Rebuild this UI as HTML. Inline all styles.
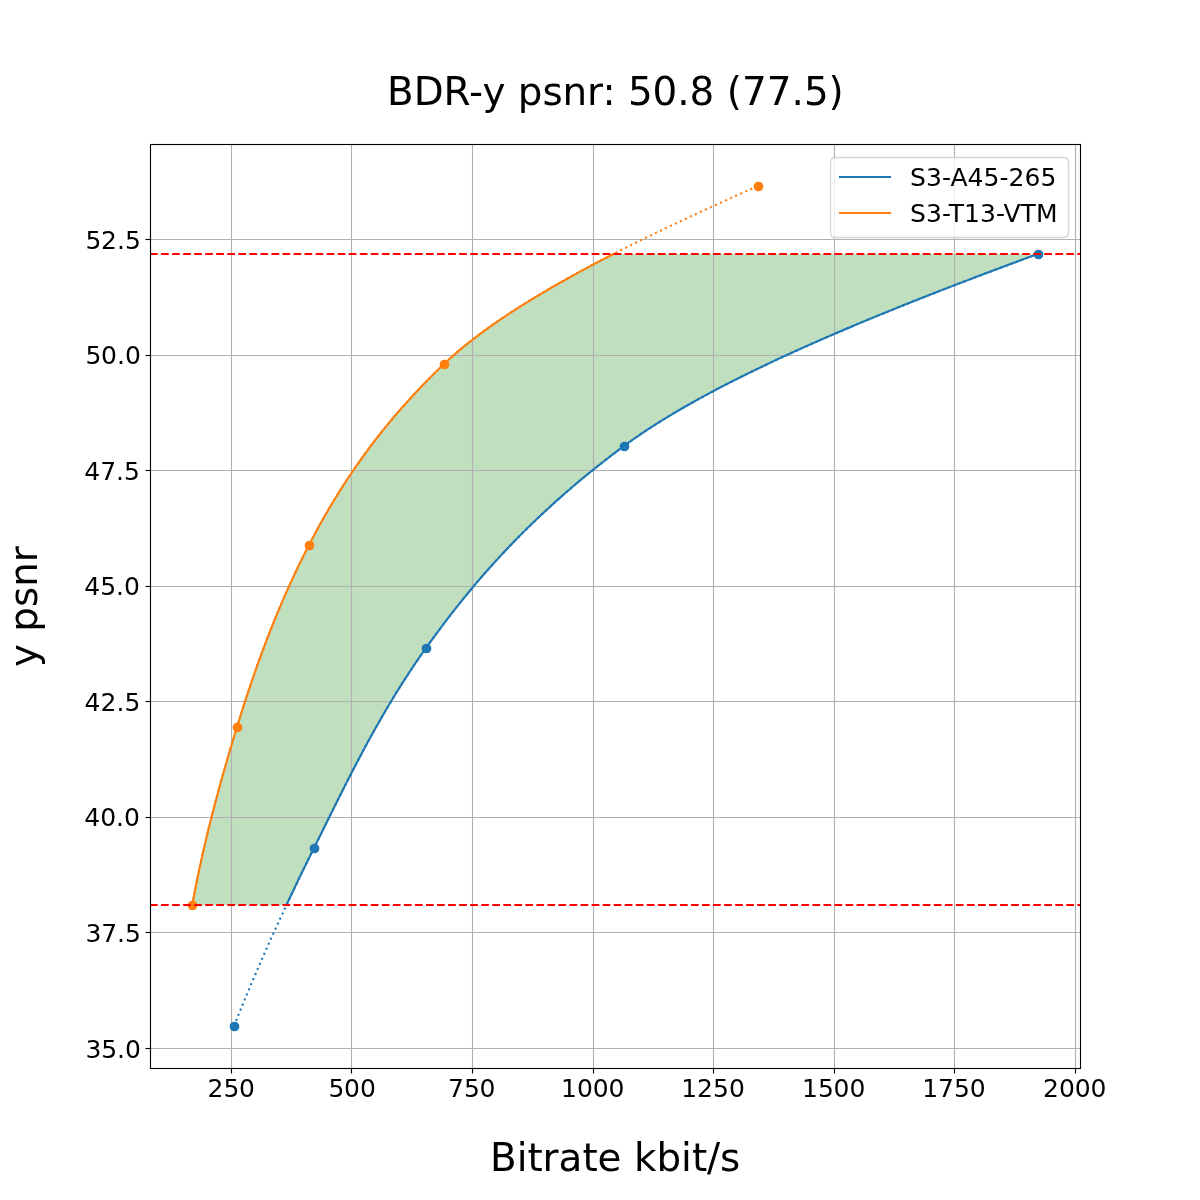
<!DOCTYPE html>
<html lang="en"><head><meta charset="utf-8"><title>BDR-y psnr</title>
<style>html,body{margin:0;padding:0;background:#fff}body{width:1200px;height:1200px;overflow:hidden}</style></head>
<body>
<svg width="1200" height="1200" viewBox="0 0 1200 1200" style="display:block;font-family:'DejaVu Sans', 'Liberation Sans', sans-serif">
<defs><clipPath id="axclip"><rect x="150" y="144" width="930" height="924"/></clipPath></defs>
<rect width="1200" height="1200" fill="#fff"/>
<g clip-path="url(#axclip)">
<path d="M192.27 905 L192.56 903.37 L192.86 901.74 L193.16 900.11 L193.46 898.47 L193.77 896.84 L194.08 895.21 L194.39 893.58 L194.7 891.95 L195.02 890.32 L195.33 888.68 L195.65 887.05 L195.98 885.42 L196.3 883.79 L196.63 882.16 L196.96 880.53 L197.29 878.89 L197.63 877.26 L197.96 875.63 L198.3 874 L198.64 872.37 L198.99 870.74 L199.34 869.11 L199.68 867.47 L200.04 865.84 L200.39 864.21 L200.74 862.58 L201.1 860.95 L201.46 859.32 L201.82 857.68 L202.19 856.05 L202.56 854.42 L202.93 852.79 L203.3 851.16 L203.67 849.53 L204.05 847.89 L204.42 846.26 L204.8 844.63 L205.19 843 L205.57 841.37 L205.96 839.74 L206.34 838.11 L206.74 836.47 L207.13 834.84 L207.52 833.21 L207.92 831.58 L208.32 829.95 L208.72 828.32 L209.12 826.68 L209.53 825.05 L209.93 823.42 L210.34 821.79 L210.75 820.16 L211.16 818.53 L211.58 816.89 L211.99 815.26 L212.41 813.63 L212.83 812 L213.25 810.37 L213.68 808.74 L214.1 807.11 L214.53 805.47 L214.96 803.84 L215.39 802.21 L215.82 800.58 L216.26 798.95 L216.7 797.32 L217.13 795.68 L217.57 794.05 L218.01 792.42 L218.46 790.79 L218.9 789.16 L219.35 787.53 L219.8 785.89 L220.25 784.26 L220.7 782.63 L221.15 781 L221.61 779.37 L222.07 777.74 L222.52 776.11 L222.98 774.47 L223.44 772.84 L223.91 771.21 L224.37 769.58 L224.84 767.95 L225.31 766.32 L225.77 764.68 L226.25 763.05 L226.72 761.42 L227.19 759.79 L227.67 758.16 L228.14 756.53 L228.62 754.89 L229.1 753.26 L229.58 751.63 L230.06 750 L230.55 748.37 L231.03 746.74 L231.52 745.11 L232 743.47 L232.49 741.84 L232.98 740.21 L233.48 738.58 L233.97 736.95 L234.46 735.32 L234.96 733.68 L235.45 732.05 L235.95 730.42 L236.45 728.79 L236.95 727.16 L237.45 725.53 L237.96 723.89 L238.46 722.26 L238.97 720.63 L239.48 719 L239.99 717.37 L240.5 715.74 L241.01 714.11 L241.53 712.47 L242.05 710.84 L242.57 709.21 L243.09 707.58 L243.61 705.95 L244.13 704.32 L244.66 702.68 L245.19 701.05 L245.72 699.42 L246.26 697.79 L246.79 696.16 L247.33 694.53 L247.87 692.89 L248.41 691.26 L248.95 689.63 L249.5 688 L250.05 686.37 L250.6 684.74 L251.15 683.11 L251.71 681.47 L252.26 679.84 L252.82 678.21 L253.39 676.58 L253.95 674.95 L254.52 673.32 L255.09 671.68 L255.66 670.05 L256.24 668.42 L256.81 666.79 L257.39 665.16 L257.98 663.53 L258.56 661.89 L259.15 660.26 L259.74 658.63 L260.33 657 L260.93 655.37 L261.53 653.74 L262.13 652.11 L262.73 650.47 L263.34 648.84 L263.95 647.21 L264.56 645.58 L265.18 643.95 L265.8 642.32 L266.42 640.68 L267.04 639.05 L267.67 637.42 L268.3 635.79 L268.94 634.16 L269.57 632.53 L270.21 630.89 L270.86 629.26 L271.5 627.63 L272.15 626 L272.81 624.37 L273.46 622.74 L274.12 621.11 L274.79 619.47 L275.45 617.84 L276.12 616.21 L276.79 614.58 L277.47 612.95 L278.15 611.32 L278.83 609.68 L279.52 608.05 L280.21 606.42 L280.9 604.79 L281.6 603.16 L282.3 601.53 L283.01 599.89 L283.71 598.26 L284.43 596.63 L285.14 595 L285.86 593.37 L286.58 591.74 L287.31 590.11 L288.04 588.47 L288.78 586.84 L289.51 585.21 L290.26 583.58 L291 581.95 L291.75 580.32 L292.51 578.68 L293.26 577.05 L294.03 575.42 L294.79 573.79 L295.56 572.16 L296.34 570.53 L297.11 568.89 L297.9 567.26 L298.68 565.63 L299.47 564 L300.27 562.37 L301.07 560.74 L301.87 559.11 L302.68 557.47 L303.49 555.84 L304.31 554.21 L305.13 552.58 L305.95 550.95 L306.78 549.32 L307.62 547.68 L308.46 546.05 L309.3 544.42 L310.15 542.79 L311 541.16 L311.86 539.53 L312.72 537.89 L313.58 536.26 L314.46 534.63 L315.33 533 L316.21 531.37 L317.1 529.74 L317.99 528.11 L318.89 526.47 L319.79 524.84 L320.7 523.21 L321.61 521.58 L322.52 519.95 L323.45 518.32 L324.38 516.68 L325.31 515.05 L326.25 513.42 L327.19 511.79 L328.15 510.16 L329.1 508.53 L330.07 506.89 L331.03 505.26 L332.01 503.63 L332.99 502 L333.98 500.37 L334.97 498.74 L335.97 497.11 L336.97 495.47 L337.98 493.84 L339 492.21 L340.03 490.58 L341.06 488.95 L342.1 487.32 L343.14 485.68 L344.19 484.05 L345.25 482.42 L346.31 480.79 L347.38 479.16 L348.46 477.53 L349.55 475.89 L350.64 474.26 L351.74 472.63 L352.85 471 L353.96 469.37 L355.08 467.74 L356.21 466.11 L357.35 464.47 L358.49 462.84 L359.64 461.21 L360.8 459.58 L361.96 457.95 L363.14 456.32 L364.32 454.68 L365.51 453.05 L366.71 451.42 L367.91 449.79 L369.12 448.16 L370.35 446.53 L371.57 444.89 L372.81 443.26 L374.06 441.63 L375.31 440 L376.57 438.37 L377.85 436.74 L379.12 435.11 L380.41 433.47 L381.71 431.84 L383.01 430.21 L384.33 428.58 L385.65 426.95 L386.98 425.32 L388.32 423.68 L389.67 422.05 L391.03 420.42 L392.4 418.79 L393.77 417.16 L395.16 415.53 L396.56 413.89 L397.96 412.26 L399.37 410.63 L400.8 409 L402.23 407.37 L403.67 405.74 L405.12 404.11 L406.58 402.47 L408.06 400.84 L409.54 399.21 L411.03 397.58 L412.53 395.95 L414.04 394.32 L415.56 392.68 L417.09 391.05 L418.63 389.42 L420.18 387.79 L421.75 386.16 L423.32 384.53 L424.9 382.89 L426.49 381.26 L428.1 379.63 L429.71 378 L431.33 376.37 L432.97 374.74 L434.61 373.11 L436.27 371.47 L437.94 369.84 L439.62 368.21 L441.31 366.58 L443.01 364.95 L444.72 363.32 L446.46 361.68 L448.22 360.05 L450.02 358.42 L451.84 356.79 L453.68 355.16 L455.56 353.53 L457.45 351.89 L459.38 350.26 L461.33 348.63 L463.31 347 L465.32 345.37 L467.34 343.74 L469.4 342.11 L471.48 340.47 L473.59 338.84 L475.72 337.21 L477.87 335.58 L480.05 333.95 L482.26 332.32 L484.49 330.68 L486.74 329.05 L489.02 327.42 L491.32 325.79 L493.64 324.16 L495.99 322.53 L498.36 320.89 L500.75 319.26 L503.17 317.63 L505.61 316 L508.07 314.37 L510.56 312.74 L513.06 311.11 L515.59 309.47 L518.14 307.84 L520.72 306.21 L523.31 304.58 L525.93 302.95 L528.56 301.32 L531.22 299.68 L533.9 298.05 L536.6 296.42 L539.32 294.79 L542.06 293.16 L544.82 291.53 L547.6 289.89 L550.4 288.26 L553.22 286.63 L556.06 285 L558.91 283.37 L561.79 281.74 L564.69 280.11 L567.6 278.47 L570.54 276.84 L573.49 275.21 L576.46 273.58 L579.45 271.95 L582.45 270.32 L585.48 268.68 L588.52 267.05 L591.58 265.42 L594.66 263.79 L597.75 262.16 L600.86 260.53 L603.99 258.89 L607.13 257.26 L610.29 255.63 L613.47 254 L1037.73 254 L1033.29 255.63 L1028.85 257.26 L1024.42 258.89 L1020.01 260.53 L1015.6 262.16 L1011.21 263.79 L1006.82 265.42 L1002.45 267.05 L998.09 268.68 L993.73 270.32 L989.39 271.95 L985.06 273.58 L980.74 275.21 L976.44 276.84 L972.14 278.47 L967.86 280.11 L963.59 281.74 L959.33 283.37 L955.08 285 L950.85 286.63 L946.63 288.26 L942.42 289.89 L938.22 291.53 L934.04 293.16 L929.87 294.79 L925.72 296.42 L921.58 298.05 L917.45 299.68 L913.34 301.32 L909.24 302.95 L905.15 304.58 L901.08 306.21 L897.03 307.84 L892.98 309.47 L888.96 311.11 L884.95 312.74 L880.95 314.37 L876.97 316 L873.01 317.63 L869.06 319.26 L865.13 320.89 L861.21 322.53 L857.31 324.16 L853.43 325.79 L849.56 327.42 L845.71 329.05 L841.88 330.68 L838.06 332.32 L834.27 333.95 L830.49 335.58 L826.72 337.21 L822.98 338.84 L819.25 340.47 L815.54 342.11 L811.85 343.74 L808.18 345.37 L804.52 347 L800.89 348.63 L797.27 350.26 L793.67 351.89 L790.1 353.53 L786.54 355.16 L783 356.79 L779.48 358.42 L775.98 360.05 L772.5 361.68 L769.04 363.32 L765.6 364.95 L762.18 366.58 L758.79 368.21 L755.41 369.84 L752.06 371.47 L748.72 373.11 L745.41 374.74 L742.12 376.37 L738.85 378 L735.6 379.63 L732.37 381.26 L729.17 382.89 L725.99 384.53 L722.83 386.16 L719.7 387.79 L716.58 389.42 L713.49 391.05 L710.43 392.68 L707.38 394.32 L704.36 395.95 L701.37 397.58 L698.39 399.21 L695.45 400.84 L692.52 402.47 L689.62 404.11 L686.75 405.74 L683.89 407.37 L681.07 409 L678.27 410.63 L675.49 412.26 L672.74 413.89 L670.02 415.53 L667.32 417.16 L664.64 418.79 L661.99 420.42 L659.37 422.05 L656.78 423.68 L654.21 425.32 L651.67 426.95 L649.15 428.58 L646.66 430.21 L644.2 431.84 L641.76 433.47 L639.36 435.11 L636.98 436.74 L634.63 438.37 L632.3 440 L630.01 441.63 L627.74 443.26 L625.5 444.89 L623.29 446.53 L621.09 448.16 L618.91 449.79 L616.74 451.42 L614.58 453.05 L612.44 454.68 L610.3 456.32 L608.18 457.95 L606.07 459.58 L603.97 461.21 L601.89 462.84 L599.82 464.47 L597.75 466.11 L595.7 467.74 L593.66 469.37 L591.64 471 L589.62 472.63 L587.62 474.26 L585.63 475.89 L583.64 477.53 L581.67 479.16 L579.71 480.79 L577.77 482.42 L575.83 484.05 L573.9 485.68 L571.99 487.32 L570.09 488.95 L568.19 490.58 L566.31 492.21 L564.44 493.84 L562.58 495.47 L560.73 497.11 L558.88 498.74 L557.05 500.37 L555.24 502 L553.43 503.63 L551.63 505.26 L549.84 506.89 L548.06 508.53 L546.29 510.16 L544.53 511.79 L542.78 513.42 L541.04 515.05 L539.31 516.68 L537.59 518.32 L535.88 519.95 L534.18 521.58 L532.49 523.21 L530.81 524.84 L529.13 526.47 L527.47 528.11 L525.82 529.74 L524.17 531.37 L522.53 533 L520.91 534.63 L519.29 536.26 L517.68 537.89 L516.08 539.53 L514.49 541.16 L512.9 542.79 L511.33 544.42 L509.76 546.05 L508.21 547.68 L506.66 549.32 L505.12 550.95 L503.58 552.58 L502.06 554.21 L500.54 555.84 L499.03 557.47 L497.53 559.11 L496.04 560.74 L494.56 562.37 L493.08 564 L491.61 565.63 L490.15 567.26 L488.7 568.89 L487.25 570.53 L485.81 572.16 L484.38 573.79 L482.96 575.42 L481.54 577.05 L480.13 578.68 L478.73 580.32 L477.33 581.95 L475.95 583.58 L474.56 585.21 L473.19 586.84 L471.82 588.47 L470.46 590.11 L469.11 591.74 L467.76 593.37 L466.42 595 L465.08 596.63 L463.76 598.26 L462.43 599.89 L461.12 601.53 L459.81 603.16 L458.51 604.79 L457.21 606.42 L455.92 608.05 L454.63 609.68 L453.35 611.32 L452.08 612.95 L450.81 614.58 L449.55 616.21 L448.29 617.84 L447.04 619.47 L445.8 621.11 L444.56 622.74 L443.32 624.37 L442.09 626 L440.87 627.63 L439.65 629.26 L438.44 630.89 L437.23 632.53 L436.02 634.16 L434.83 635.79 L433.63 637.42 L432.44 639.05 L431.26 640.68 L430.08 642.32 L428.9 643.95 L427.73 645.58 L426.56 647.21 L425.4 648.84 L424.24 650.47 L423.1 652.11 L421.95 653.74 L420.82 655.37 L419.68 657 L418.56 658.63 L417.44 660.26 L416.33 661.89 L415.22 663.53 L414.12 665.16 L413.03 666.79 L411.94 668.42 L410.85 670.05 L409.78 671.68 L408.7 673.32 L407.64 674.95 L406.58 676.58 L405.52 678.21 L404.47 679.84 L403.43 681.47 L402.39 683.11 L401.35 684.74 L400.32 686.37 L399.3 688 L398.28 689.63 L397.26 691.26 L396.25 692.89 L395.25 694.53 L394.25 696.16 L393.26 697.79 L392.26 699.42 L391.28 701.05 L390.3 702.68 L389.32 704.32 L388.35 705.95 L387.38 707.58 L386.42 709.21 L385.46 710.84 L384.5 712.47 L383.55 714.11 L382.6 715.74 L381.66 717.37 L380.72 719 L379.79 720.63 L378.86 722.26 L377.93 723.89 L377 725.53 L376.08 727.16 L375.17 728.79 L374.26 730.42 L373.35 732.05 L372.44 733.68 L371.54 735.32 L370.64 736.95 L369.74 738.58 L368.85 740.21 L367.96 741.84 L367.07 743.47 L366.19 745.11 L365.31 746.74 L364.43 748.37 L363.56 750 L362.68 751.63 L361.81 753.26 L360.95 754.89 L360.08 756.53 L359.22 758.16 L358.36 759.79 L357.51 761.42 L356.65 763.05 L355.8 764.68 L354.95 766.32 L354.1 767.95 L353.26 769.58 L352.41 771.21 L351.57 772.84 L350.73 774.47 L349.9 776.11 L349.06 777.74 L348.23 779.37 L347.4 781 L346.57 782.63 L345.74 784.26 L344.91 785.89 L344.08 787.53 L343.26 789.16 L342.44 790.79 L341.62 792.42 L340.8 794.05 L339.98 795.68 L339.16 797.32 L338.34 798.95 L337.53 800.58 L336.71 802.21 L335.9 803.84 L335.08 805.47 L334.27 807.11 L333.46 808.74 L332.65 810.37 L331.84 812 L331.03 813.63 L330.22 815.26 L329.41 816.89 L328.6 818.53 L327.8 820.16 L326.99 821.79 L326.18 823.42 L325.37 825.05 L324.57 826.68 L323.76 828.32 L322.95 829.95 L322.14 831.58 L321.34 833.21 L320.53 834.84 L319.72 836.47 L318.91 838.11 L318.1 839.74 L317.29 841.37 L316.48 843 L315.67 844.63 L314.86 846.26 L314.05 847.89 L313.24 849.53 L312.43 851.16 L311.62 852.79 L310.82 854.42 L310.01 856.05 L309.2 857.68 L308.4 859.32 L307.6 860.95 L306.8 862.58 L306 864.21 L305.2 865.84 L304.4 867.47 L303.61 869.11 L302.82 870.74 L302.02 872.37 L301.23 874 L300.44 875.63 L299.65 877.26 L298.87 878.89 L298.08 880.53 L297.3 882.16 L296.52 883.79 L295.73 885.42 L294.95 887.05 L294.18 888.68 L293.4 890.32 L292.62 891.95 L291.85 893.58 L291.08 895.21 L290.3 896.84 L289.53 898.47 L288.76 900.11 L288 901.74 L287.23 903.37 L286.47 905 Z" fill="#008000" fill-opacity="0.25"/>
</g>
<g stroke="#b0b0b0" stroke-width="1.11" fill="none">
<path d="M231.5 144V1068"/>
<path d="M351.5 144V1068"/>
<path d="M472.5 144V1068"/>
<path d="M593.5 144V1068"/>
<path d="M713.5 144V1068"/>
<path d="M834.5 144V1068"/>
<path d="M954.5 144V1068"/>
<path d="M1075.5 144V1068"/>
<path d="M150 1048.5H1080"/>
<path d="M150 932.5H1080"/>
<path d="M150 817.5H1080"/>
<path d="M150 701.5H1080"/>
<path d="M150 586.5H1080"/>
<path d="M150 470.5H1080"/>
<path d="M150 355.5H1080"/>
<path d="M150 239.5H1080"/>
</g>
<g stroke="#000" stroke-width="1.11" fill="none">
<path d="M231.5 1068.5V1073.5"/>
<path d="M351.5 1068.5V1073.5"/>
<path d="M472.5 1068.5V1073.5"/>
<path d="M593.5 1068.5V1073.5"/>
<path d="M713.5 1068.5V1073.5"/>
<path d="M834.5 1068.5V1073.5"/>
<path d="M954.5 1068.5V1073.5"/>
<path d="M1075.5 1068.5V1073.5"/>
<path d="M150.5 1048.5H145.5"/>
<path d="M150.5 932.5H145.5"/>
<path d="M150.5 817.5H145.5"/>
<path d="M150.5 701.5H145.5"/>
<path d="M150.5 586.5H145.5"/>
<path d="M150.5 470.5H145.5"/>
<path d="M150.5 355.5H145.5"/>
<path d="M150.5 239.5H145.5"/>
</g>
<g clip-path="url(#axclip)" fill="none" stroke-width="2.08" stroke-linejoin="round">
<path d="M234 1026 L234.77 1024.07 L235.54 1022.13 L236.32 1020.2 L237.09 1018.26 L237.87 1016.33 L238.66 1014.39 L239.44 1012.46 L240.23 1010.52 L241.01 1008.59 L241.81 1006.65 L242.6 1004.72 L243.39 1002.78 L244.19 1000.85 L244.99 998.91 L245.79 996.98 L246.6 995.04 L247.41 993.11 L248.22 991.17 L249.03 989.24 L249.84 987.3 L250.66 985.37 L251.47 983.43 L252.3 981.5 L253.12 979.56 L253.94 977.63 L254.77 975.69 L255.6 973.76 L256.43 971.82 L257.26 969.89 L258.1 967.95 L258.94 966.02 L259.78 964.09 L260.62 962.15 L261.47 960.22 L262.31 958.28 L263.16 956.35 L264.01 954.41 L264.87 952.48 L265.72 950.54 L266.58 948.61 L267.44 946.67 L268.3 944.74 L269.17 942.8 L270.03 940.87 L270.9 938.93 L271.77 937 L272.64 935.06 L273.52 933.13 L274.39 931.19 L275.27 929.26 L276.15 927.32 L277.04 925.39 L277.92 923.45 L278.81 921.52 L279.7 919.58 L280.59 917.65 L281.48 915.71 L282.38 913.78 L283.28 911.84 L284.18 909.91 L285.08 907.97 L285.98 906.04 L286.89 904.11 L287.79 902.17 L288.7 900.24 L289.61 898.3 L290.53 896.37 L291.44 894.43 L292.36 892.5 L293.28 890.56 L294.2 888.63 L295.13 886.69 L296.05 884.76 L296.98 882.82 L297.91 880.89 L298.84 878.95 L299.77 877.02 L300.71 875.08 L301.65 873.15 L302.58 871.21 L303.53 869.28 L304.47 867.34 L305.41 865.41 L306.36 863.47 L307.31 861.54 L308.26 859.6 L309.21 857.67 L310.17 855.73 L311.12 853.8 L312.08 851.86 L313.04 849.93 L314 847.99 L314.96 846.06 L315.93 844.13 L316.89 842.19 L317.85 840.26 L318.81 838.32 L319.76 836.39 L320.72 834.45 L321.68 832.52 L322.64 830.58 L323.59 828.65 L324.55 826.71 L325.51 824.78 L326.47 822.84 L327.42 820.91 L328.38 818.97 L329.34 817.04 L330.3 815.1 L331.26 813.17 L332.22 811.23 L333.18 809.3 L334.14 807.36 L335.11 805.43 L336.07 803.49 L337.04 801.56 L338 799.62 L338.97 797.69 L339.94 795.75 L340.91 793.82 L341.89 791.88 L342.86 789.95 L343.84 788.02 L344.82 786.08 L345.8 784.15 L346.78 782.21 L347.76 780.28 L348.75 778.34 L349.74 776.41 L350.74 774.47 L351.73 772.54 L352.73 770.6 L353.73 768.67 L354.73 766.73 L355.74 764.8 L356.75 762.86 L357.77 760.93 L358.78 758.99 L359.8 757.06 L360.83 755.12 L361.85 753.19 L362.89 751.25 L363.92 749.32 L364.96 747.38 L366 745.45 L367.05 743.51 L368.1 741.58 L369.16 739.64 L370.22 737.71 L371.28 735.77 L372.35 733.84 L373.43 731.9 L374.51 729.97 L375.59 728.04 L376.68 726.1 L377.78 724.17 L378.87 722.23 L379.98 720.3 L381.09 718.36 L382.21 716.43 L383.33 714.49 L384.45 712.56 L385.59 710.62 L386.73 708.69 L387.87 706.75 L389.02 704.82 L390.18 702.88 L391.34 700.95 L392.51 699.01 L393.69 697.08 L394.87 695.14 L396.06 693.21 L397.26 691.27 L398.46 689.34 L399.67 687.4 L400.89 685.47 L402.11 683.53 L403.35 681.6 L404.58 679.66 L405.83 677.73 L407.09 675.79 L408.35 673.86 L409.62 671.92 L410.9 669.99 L412.18 668.06 L413.47 666.12 L414.78 664.19 L416.09 662.25 L417.41 660.32 L418.73 658.38 L420.07 656.45 L421.41 654.51 L422.76 652.58 L424.13 650.64 L425.5 648.71 L426.88 646.77 L428.26 644.84 L429.65 642.9 L431.05 640.97 L432.46 639.03 L433.87 637.1 L435.28 635.16 L436.71 633.23 L438.14 631.29 L439.58 629.36 L441.03 627.42 L442.48 625.49 L443.94 623.55 L445.41 621.62 L446.88 619.68 L448.37 617.75 L449.86 615.81 L451.36 613.88 L452.86 611.94 L454.38 610.01 L455.9 608.08 L457.43 606.14 L458.97 604.21 L460.52 602.27 L462.08 600.34 L463.64 598.4 L465.22 596.47 L466.8 594.53 L468.4 592.6 L470 590.66 L471.61 588.73 L473.23 586.79 L474.86 584.86 L476.5 582.92 L478.15 580.99 L479.81 579.05 L481.48 577.12 L483.16 575.18 L484.85 573.25 L486.56 571.31 L488.27 569.38 L489.99 567.44 L491.72 565.51 L493.47 563.57 L495.22 561.64 L496.99 559.7 L498.76 557.77 L500.55 555.83 L502.35 553.9 L504.16 551.96 L505.98 550.03 L507.81 548.1 L509.66 546.16 L511.52 544.23 L513.39 542.29 L515.27 540.36 L517.16 538.42 L519.07 536.49 L520.99 534.55 L522.92 532.62 L524.86 530.68 L526.82 528.75 L528.79 526.81 L530.77 524.88 L532.77 522.94 L534.77 521.01 L536.8 519.07 L538.83 517.14 L540.88 515.2 L542.94 513.27 L545.02 511.33 L547.11 509.4 L549.22 507.46 L551.33 505.53 L553.47 503.59 L555.61 501.66 L557.78 499.72 L559.95 497.79 L562.14 495.85 L564.35 493.92 L566.57 491.98 L568.8 490.05 L571.05 488.12 L573.32 486.18 L575.6 484.25 L577.9 482.31 L580.21 480.38 L582.54 478.44 L584.88 476.51 L587.24 474.57 L589.62 472.64 L592.01 470.7 L594.41 468.77 L596.84 466.83 L599.28 464.9 L601.74 462.96 L604.21 461.03 L606.7 459.09 L609.21 457.16 L611.73 455.22 L614.27 453.29 L616.83 451.35 L619.41 449.42 L622 447.48 L624.61 445.55 L627.26 443.61 L629.94 441.68 L632.67 439.74 L635.43 437.81 L638.23 435.87 L641.07 433.94 L643.96 432.01 L646.87 430.07 L649.83 428.14 L652.83 426.2 L655.86 424.27 L658.93 422.33 L662.03 420.4 L665.18 418.46 L668.36 416.53 L671.57 414.59 L674.83 412.66 L678.11 410.72 L681.44 408.79 L684.79 406.85 L688.19 404.92 L691.61 402.98 L695.08 401.05 L698.57 399.11 L702.1 397.18 L705.66 395.24 L709.26 393.31 L712.89 391.37 L716.55 389.44 L720.24 387.5 L723.97 385.57 L727.73 383.63 L731.52 381.7 L735.34 379.76 L739.19 377.83 L743.07 375.89 L746.98 373.96 L750.93 372.03 L754.9 370.09 L758.9 368.16 L762.93 366.22 L766.99 364.29 L771.08 362.35 L775.2 360.42 L779.35 358.48 L783.52 356.55 L787.73 354.61 L791.96 352.68 L796.21 350.74 L800.5 348.81 L804.81 346.87 L809.14 344.94 L813.51 343 L817.9 341.07 L822.31 339.13 L826.75 337.2 L831.22 335.26 L835.71 333.33 L840.22 331.39 L844.76 329.46 L849.32 327.52 L853.91 325.59 L858.52 323.65 L863.15 321.72 L867.8 319.78 L872.48 317.85 L877.18 315.91 L881.9 313.98 L886.65 312.05 L891.41 310.11 L896.2 308.18 L901.01 306.24 L905.83 304.31 L910.68 302.37 L915.55 300.44 L920.44 298.5 L925.35 296.57 L930.28 294.63 L935.22 292.7 L940.19 290.76 L945.17 288.83 L950.17 286.89 L955.19 284.96 L960.23 283.02 L965.29 281.09 L970.36 279.15 L975.45 277.22 L980.55 275.28 L985.67 273.35 L990.81 271.41 L995.97 269.48 L1001.13 267.54 L1006.32 265.61 L1011.52 263.67 L1016.73 261.74 L1021.96 259.8 L1027.2 257.87 L1032.46 255.93 L1037.73 254" stroke="#1f77b4" stroke-dasharray="2.08 3.44"/>
<path d="M286.47 905 L287.23 903.37 L288 901.74 L288.76 900.11 L289.53 898.47 L290.3 896.84 L291.08 895.21 L291.85 893.58 L292.62 891.95 L293.4 890.32 L294.18 888.68 L294.95 887.05 L295.73 885.42 L296.52 883.79 L297.3 882.16 L298.08 880.53 L298.87 878.89 L299.65 877.26 L300.44 875.63 L301.23 874 L302.02 872.37 L302.82 870.74 L303.61 869.11 L304.4 867.47 L305.2 865.84 L306 864.21 L306.8 862.58 L307.6 860.95 L308.4 859.32 L309.2 857.68 L310.01 856.05 L310.82 854.42 L311.62 852.79 L312.43 851.16 L313.24 849.53 L314.05 847.89 L314.86 846.26 L315.67 844.63 L316.48 843 L317.29 841.37 L318.1 839.74 L318.91 838.11 L319.72 836.47 L320.53 834.84 L321.34 833.21 L322.14 831.58 L322.95 829.95 L323.76 828.32 L324.57 826.68 L325.37 825.05 L326.18 823.42 L326.99 821.79 L327.8 820.16 L328.6 818.53 L329.41 816.89 L330.22 815.26 L331.03 813.63 L331.84 812 L332.65 810.37 L333.46 808.74 L334.27 807.11 L335.08 805.47 L335.9 803.84 L336.71 802.21 L337.53 800.58 L338.34 798.95 L339.16 797.32 L339.98 795.68 L340.8 794.05 L341.62 792.42 L342.44 790.79 L343.26 789.16 L344.08 787.53 L344.91 785.89 L345.74 784.26 L346.57 782.63 L347.4 781 L348.23 779.37 L349.06 777.74 L349.9 776.11 L350.73 774.47 L351.57 772.84 L352.41 771.21 L353.26 769.58 L354.1 767.95 L354.95 766.32 L355.8 764.68 L356.65 763.05 L357.51 761.42 L358.36 759.79 L359.22 758.16 L360.08 756.53 L360.95 754.89 L361.81 753.26 L362.68 751.63 L363.56 750 L364.43 748.37 L365.31 746.74 L366.19 745.11 L367.07 743.47 L367.96 741.84 L368.85 740.21 L369.74 738.58 L370.64 736.95 L371.54 735.32 L372.44 733.68 L373.35 732.05 L374.26 730.42 L375.17 728.79 L376.08 727.16 L377 725.53 L377.93 723.89 L378.86 722.26 L379.79 720.63 L380.72 719 L381.66 717.37 L382.6 715.74 L383.55 714.11 L384.5 712.47 L385.46 710.84 L386.42 709.21 L387.38 707.58 L388.35 705.95 L389.32 704.32 L390.3 702.68 L391.28 701.05 L392.26 699.42 L393.26 697.79 L394.25 696.16 L395.25 694.53 L396.25 692.89 L397.26 691.26 L398.28 689.63 L399.3 688 L400.32 686.37 L401.35 684.74 L402.39 683.11 L403.43 681.47 L404.47 679.84 L405.52 678.21 L406.58 676.58 L407.64 674.95 L408.7 673.32 L409.78 671.68 L410.85 670.05 L411.94 668.42 L413.03 666.79 L414.12 665.16 L415.22 663.53 L416.33 661.89 L417.44 660.26 L418.56 658.63 L419.68 657 L420.82 655.37 L421.95 653.74 L423.1 652.11 L424.24 650.47 L425.4 648.84 L426.56 647.21 L427.73 645.58 L428.9 643.95 L430.08 642.32 L431.26 640.68 L432.44 639.05 L433.63 637.42 L434.83 635.79 L436.02 634.16 L437.23 632.53 L438.44 630.89 L439.65 629.26 L440.87 627.63 L442.09 626 L443.32 624.37 L444.56 622.74 L445.8 621.11 L447.04 619.47 L448.29 617.84 L449.55 616.21 L450.81 614.58 L452.08 612.95 L453.35 611.32 L454.63 609.68 L455.92 608.05 L457.21 606.42 L458.51 604.79 L459.81 603.16 L461.12 601.53 L462.43 599.89 L463.76 598.26 L465.08 596.63 L466.42 595 L467.76 593.37 L469.11 591.74 L470.46 590.11 L471.82 588.47 L473.19 586.84 L474.56 585.21 L475.95 583.58 L477.33 581.95 L478.73 580.32 L480.13 578.68 L481.54 577.05 L482.96 575.42 L484.38 573.79 L485.81 572.16 L487.25 570.53 L488.7 568.89 L490.15 567.26 L491.61 565.63 L493.08 564 L494.56 562.37 L496.04 560.74 L497.53 559.11 L499.03 557.47 L500.54 555.84 L502.06 554.21 L503.58 552.58 L505.12 550.95 L506.66 549.32 L508.21 547.68 L509.76 546.05 L511.33 544.42 L512.9 542.79 L514.49 541.16 L516.08 539.53 L517.68 537.89 L519.29 536.26 L520.91 534.63 L522.53 533 L524.17 531.37 L525.82 529.74 L527.47 528.11 L529.13 526.47 L530.81 524.84 L532.49 523.21 L534.18 521.58 L535.88 519.95 L537.59 518.32 L539.31 516.68 L541.04 515.05 L542.78 513.42 L544.53 511.79 L546.29 510.16 L548.06 508.53 L549.84 506.89 L551.63 505.26 L553.43 503.63 L555.24 502 L557.05 500.37 L558.88 498.74 L560.73 497.11 L562.58 495.47 L564.44 493.84 L566.31 492.21 L568.19 490.58 L570.09 488.95 L571.99 487.32 L573.9 485.68 L575.83 484.05 L577.77 482.42 L579.71 480.79 L581.67 479.16 L583.64 477.53 L585.63 475.89 L587.62 474.26 L589.62 472.63 L591.64 471 L593.66 469.37 L595.7 467.74 L597.75 466.11 L599.82 464.47 L601.89 462.84 L603.97 461.21 L606.07 459.58 L608.18 457.95 L610.3 456.32 L612.44 454.68 L614.58 453.05 L616.74 451.42 L618.91 449.79 L621.09 448.16 L623.29 446.53 L625.5 444.89 L627.74 443.26 L630.01 441.63 L632.3 440 L634.63 438.37 L636.98 436.74 L639.36 435.11 L641.76 433.47 L644.2 431.84 L646.66 430.21 L649.15 428.58 L651.67 426.95 L654.21 425.32 L656.78 423.68 L659.37 422.05 L661.99 420.42 L664.64 418.79 L667.32 417.16 L670.02 415.53 L672.74 413.89 L675.49 412.26 L678.27 410.63 L681.07 409 L683.89 407.37 L686.75 405.74 L689.62 404.11 L692.52 402.47 L695.45 400.84 L698.39 399.21 L701.37 397.58 L704.36 395.95 L707.38 394.32 L710.43 392.68 L713.49 391.05 L716.58 389.42 L719.7 387.79 L722.83 386.16 L725.99 384.53 L729.17 382.89 L732.37 381.26 L735.6 379.63 L738.85 378 L742.12 376.37 L745.41 374.74 L748.72 373.11 L752.06 371.47 L755.41 369.84 L758.79 368.21 L762.18 366.58 L765.6 364.95 L769.04 363.32 L772.5 361.68 L775.98 360.05 L779.48 358.42 L783 356.79 L786.54 355.16 L790.1 353.53 L793.67 351.89 L797.27 350.26 L800.89 348.63 L804.52 347 L808.18 345.37 L811.85 343.74 L815.54 342.11 L819.25 340.47 L822.98 338.84 L826.72 337.21 L830.49 335.58 L834.27 333.95 L838.06 332.32 L841.88 330.68 L845.71 329.05 L849.56 327.42 L853.43 325.79 L857.31 324.16 L861.21 322.53 L865.13 320.89 L869.06 319.26 L873.01 317.63 L876.97 316 L880.95 314.37 L884.95 312.74 L888.96 311.11 L892.98 309.47 L897.03 307.84 L901.08 306.21 L905.15 304.58 L909.24 302.95 L913.34 301.32 L917.45 299.68 L921.58 298.05 L925.72 296.42 L929.87 294.79 L934.04 293.16 L938.22 291.53 L942.42 289.89 L946.63 288.26 L950.85 286.63 L955.08 285 L959.33 283.37 L963.59 281.74 L967.86 280.11 L972.14 278.47 L976.44 276.84 L980.74 275.21 L985.06 273.58 L989.39 271.95 L993.73 270.32 L998.09 268.68 L1002.45 267.05 L1006.82 265.42 L1011.21 263.79 L1015.6 262.16 L1020.01 260.53 L1024.42 258.89 L1028.85 257.26 L1033.29 255.63 L1037.73 254" stroke="#1f77b4" stroke-linecap="square"/>
<circle cx="234.5" cy="1026.5" r="4.17" fill="#1f77b4" stroke="#1f77b4" stroke-width="1.39"/>
<circle cx="314.5" cy="848.5" r="4.17" fill="#1f77b4" stroke="#1f77b4" stroke-width="1.39"/>
<circle cx="426.5" cy="648.5" r="4.17" fill="#1f77b4" stroke="#1f77b4" stroke-width="1.39"/>
<circle cx="624.5" cy="446.5" r="4.17" fill="#1f77b4" stroke="#1f77b4" stroke-width="1.39"/>
<circle cx="1038.5" cy="254.5" r="4.17" fill="#1f77b4" stroke="#1f77b4" stroke-width="1.39"/>
<path d="M192.27 905 L192.6 903.2 L192.92 901.4 L193.26 899.59 L193.59 897.79 L193.93 895.99 L194.27 894.19 L194.62 892.39 L194.96 890.58 L195.31 888.78 L195.67 886.98 L196.02 885.18 L196.38 883.38 L196.75 881.57 L197.11 879.77 L197.48 877.97 L197.85 876.17 L198.23 874.37 L198.6 872.56 L198.98 870.76 L199.37 868.96 L199.75 867.16 L200.14 865.36 L200.53 863.55 L200.93 861.75 L201.32 859.95 L201.72 858.15 L202.12 856.35 L202.53 854.54 L202.94 852.74 L203.35 850.94 L203.76 849.14 L204.18 847.34 L204.59 845.53 L205.01 843.73 L205.44 841.93 L205.86 840.13 L206.29 838.33 L206.72 836.52 L207.16 834.72 L207.59 832.92 L208.03 831.12 L208.47 829.32 L208.92 827.51 L209.36 825.71 L209.81 823.91 L210.26 822.11 L210.71 820.31 L211.17 818.5 L211.63 816.7 L212.09 814.9 L212.55 813.1 L213.01 811.3 L213.48 809.49 L213.95 807.69 L214.42 805.89 L214.9 804.09 L215.37 802.29 L215.85 800.48 L216.33 798.68 L216.81 796.88 L217.3 795.08 L217.78 793.28 L218.27 791.47 L218.76 789.67 L219.26 787.87 L219.75 786.07 L220.25 784.27 L220.75 782.46 L221.25 780.66 L221.75 778.86 L222.26 777.06 L222.76 775.26 L223.27 773.45 L223.78 771.65 L224.29 769.85 L224.81 768.05 L225.33 766.25 L225.84 764.44 L226.36 762.64 L226.89 760.84 L227.41 759.04 L227.94 757.24 L228.46 755.43 L228.99 753.63 L229.52 751.83 L230.05 750.03 L230.59 748.23 L231.12 746.42 L231.66 744.62 L232.2 742.82 L232.74 741.02 L233.28 739.22 L233.83 737.41 L234.37 735.61 L234.92 733.81 L235.47 732.01 L236.02 730.21 L236.57 728.4 L237.12 726.6 L237.68 724.8 L238.23 723 L238.79 721.2 L239.35 719.39 L239.92 717.59 L240.48 715.79 L241.05 713.99 L241.62 712.19 L242.19 710.38 L242.77 708.58 L243.34 706.78 L243.92 704.98 L244.5 703.18 L245.09 701.37 L245.67 699.57 L246.26 697.77 L246.85 695.97 L247.45 694.17 L248.04 692.36 L248.64 690.56 L249.25 688.76 L249.85 686.96 L250.46 685.16 L251.07 683.35 L251.68 681.55 L252.3 679.75 L252.92 677.95 L253.54 676.15 L254.16 674.34 L254.79 672.54 L255.42 670.74 L256.05 668.94 L256.69 667.14 L257.33 665.33 L257.97 663.53 L258.62 661.73 L259.27 659.93 L259.92 658.13 L260.58 656.32 L261.24 654.52 L261.9 652.72 L262.57 650.92 L263.24 649.12 L263.91 647.31 L264.59 645.51 L265.27 643.71 L265.95 641.91 L266.64 640.11 L267.33 638.3 L268.03 636.5 L268.73 634.7 L269.43 632.9 L270.14 631.1 L270.85 629.29 L271.56 627.49 L272.28 625.69 L273 623.89 L273.73 622.09 L274.46 620.28 L275.19 618.48 L275.93 616.68 L276.67 614.88 L277.42 613.08 L278.17 611.27 L278.92 609.47 L279.68 607.67 L280.44 605.87 L281.21 604.07 L281.98 602.26 L282.76 600.46 L283.54 598.66 L284.33 596.86 L285.12 595.06 L285.91 593.25 L286.71 591.45 L287.51 589.65 L288.32 587.85 L289.14 586.05 L289.95 584.24 L290.78 582.44 L291.6 580.64 L292.44 578.84 L293.27 577.04 L294.11 575.23 L294.96 573.43 L295.81 571.63 L296.67 569.83 L297.53 568.03 L298.4 566.22 L299.27 564.42 L300.15 562.62 L301.03 560.82 L301.92 559.02 L302.81 557.21 L303.71 555.41 L304.61 553.61 L305.52 551.81 L306.43 550.01 L307.35 548.2 L308.28 546.4 L309.21 544.6 L310.14 542.8 L311.08 540.99 L312.03 539.19 L312.99 537.39 L313.94 535.59 L314.91 533.79 L315.88 531.98 L316.86 530.18 L317.84 528.38 L318.83 526.58 L319.82 524.78 L320.83 522.97 L321.83 521.17 L322.85 519.37 L323.87 517.57 L324.9 515.77 L325.94 513.96 L326.98 512.16 L328.03 510.36 L329.08 508.56 L330.15 506.76 L331.22 504.95 L332.3 503.15 L333.38 501.35 L334.47 499.55 L335.57 497.75 L336.68 495.94 L337.8 494.14 L338.92 492.34 L340.05 490.54 L341.19 488.74 L342.34 486.93 L343.49 485.13 L344.66 483.33 L345.83 481.53 L347.01 479.73 L348.2 477.92 L349.4 476.12 L350.6 474.32 L351.82 472.52 L353.04 470.72 L354.27 468.91 L355.51 467.11 L356.76 465.31 L358.02 463.51 L359.29 461.71 L360.57 459.9 L361.85 458.1 L363.15 456.3 L364.45 454.5 L365.77 452.7 L367.09 450.89 L368.43 449.09 L369.77 447.29 L371.13 445.49 L372.49 443.69 L373.86 441.88 L375.25 440.08 L376.64 438.28 L378.05 436.48 L379.46 434.68 L380.89 432.87 L382.32 431.07 L383.77 429.27 L385.23 427.47 L386.7 425.67 L388.17 423.86 L389.66 422.06 L391.16 420.26 L392.68 418.46 L394.2 416.66 L395.73 414.85 L397.28 413.05 L398.84 411.25 L400.4 409.45 L401.98 407.65 L403.58 405.84 L405.18 404.04 L406.79 402.24 L408.42 400.44 L410.06 398.64 L411.71 396.83 L413.37 395.03 L415.05 393.23 L416.74 391.43 L418.44 389.63 L420.15 387.82 L421.88 386.02 L423.61 384.22 L425.36 382.42 L427.13 380.62 L428.9 378.81 L430.69 377.01 L432.49 375.21 L434.31 373.41 L436.14 371.61 L437.98 369.8 L439.83 368 L441.7 366.2 L443.58 364.4 L445.48 362.6 L447.42 360.79 L449.39 358.99 L451.39 357.19 L453.42 355.39 L455.49 353.59 L457.58 351.78 L459.71 349.98 L461.88 348.18 L464.07 346.38 L466.3 344.58 L468.55 342.77 L470.84 340.97 L473.16 339.17 L475.51 337.37 L477.89 335.57 L480.3 333.76 L482.74 331.96 L485.21 330.16 L487.7 328.36 L490.23 326.56 L492.79 324.75 L495.37 322.95 L497.99 321.15 L500.63 319.35 L503.3 317.55 L505.99 315.74 L508.72 313.94 L511.47 312.14 L514.25 310.34 L517.06 308.54 L519.89 306.73 L522.75 304.93 L525.63 303.13 L528.54 301.33 L531.48 299.53 L534.44 297.72 L537.43 295.92 L540.44 294.12 L543.48 292.32 L546.54 290.52 L549.62 288.71 L552.73 286.91 L555.86 285.11 L559.02 283.31 L562.2 281.51 L565.4 279.7 L568.63 277.9 L571.88 276.1 L575.15 274.3 L578.44 272.5 L581.76 270.69 L585.09 268.89 L588.45 267.09 L591.83 265.29 L595.23 263.49 L598.65 261.68 L602.09 259.88 L605.55 258.08 L609.04 256.28 L612.54 254.48 L616.06 252.67 L619.6 250.87 L623.16 249.07 L626.74 247.27 L630.33 245.47 L633.95 243.66 L637.58 241.86 L641.24 240.06 L644.91 238.26 L648.59 236.46 L652.3 234.65 L656.02 232.85 L659.76 231.05 L663.51 229.25 L667.28 227.45 L671.07 225.64 L674.87 223.84 L678.69 222.04 L682.53 220.24 L686.38 218.44 L690.24 216.63 L694.12 214.83 L698.01 213.03 L701.92 211.23 L705.84 209.43 L709.78 207.62 L713.73 205.82 L717.69 204.02 L721.67 202.22 L725.66 200.42 L729.66 198.61 L733.67 196.81 L737.7 195.01 L741.73 193.21 L745.78 191.41 L749.84 189.6 L753.92 187.8 L758 186" stroke="#ff7f0e" stroke-dasharray="2.08 3.44"/>
<path d="M192.27 905 L192.56 903.37 L192.86 901.74 L193.16 900.11 L193.46 898.47 L193.77 896.84 L194.08 895.21 L194.39 893.58 L194.7 891.95 L195.02 890.32 L195.33 888.68 L195.65 887.05 L195.98 885.42 L196.3 883.79 L196.63 882.16 L196.96 880.53 L197.29 878.89 L197.63 877.26 L197.96 875.63 L198.3 874 L198.64 872.37 L198.99 870.74 L199.34 869.11 L199.68 867.47 L200.04 865.84 L200.39 864.21 L200.74 862.58 L201.1 860.95 L201.46 859.32 L201.82 857.68 L202.19 856.05 L202.56 854.42 L202.93 852.79 L203.3 851.16 L203.67 849.53 L204.05 847.89 L204.42 846.26 L204.8 844.63 L205.19 843 L205.57 841.37 L205.96 839.74 L206.34 838.11 L206.74 836.47 L207.13 834.84 L207.52 833.21 L207.92 831.58 L208.32 829.95 L208.72 828.32 L209.12 826.68 L209.53 825.05 L209.93 823.42 L210.34 821.79 L210.75 820.16 L211.16 818.53 L211.58 816.89 L211.99 815.26 L212.41 813.63 L212.83 812 L213.25 810.37 L213.68 808.74 L214.1 807.11 L214.53 805.47 L214.96 803.84 L215.39 802.21 L215.82 800.58 L216.26 798.95 L216.7 797.32 L217.13 795.68 L217.57 794.05 L218.01 792.42 L218.46 790.79 L218.9 789.16 L219.35 787.53 L219.8 785.89 L220.25 784.26 L220.7 782.63 L221.15 781 L221.61 779.37 L222.07 777.74 L222.52 776.11 L222.98 774.47 L223.44 772.84 L223.91 771.21 L224.37 769.58 L224.84 767.95 L225.31 766.32 L225.77 764.68 L226.25 763.05 L226.72 761.42 L227.19 759.79 L227.67 758.16 L228.14 756.53 L228.62 754.89 L229.1 753.26 L229.58 751.63 L230.06 750 L230.55 748.37 L231.03 746.74 L231.52 745.11 L232 743.47 L232.49 741.84 L232.98 740.21 L233.48 738.58 L233.97 736.95 L234.46 735.32 L234.96 733.68 L235.45 732.05 L235.95 730.42 L236.45 728.79 L236.95 727.16 L237.45 725.53 L237.96 723.89 L238.46 722.26 L238.97 720.63 L239.48 719 L239.99 717.37 L240.5 715.74 L241.01 714.11 L241.53 712.47 L242.05 710.84 L242.57 709.21 L243.09 707.58 L243.61 705.95 L244.13 704.32 L244.66 702.68 L245.19 701.05 L245.72 699.42 L246.26 697.79 L246.79 696.16 L247.33 694.53 L247.87 692.89 L248.41 691.26 L248.95 689.63 L249.5 688 L250.05 686.37 L250.6 684.74 L251.15 683.11 L251.71 681.47 L252.26 679.84 L252.82 678.21 L253.39 676.58 L253.95 674.95 L254.52 673.32 L255.09 671.68 L255.66 670.05 L256.24 668.42 L256.81 666.79 L257.39 665.16 L257.98 663.53 L258.56 661.89 L259.15 660.26 L259.74 658.63 L260.33 657 L260.93 655.37 L261.53 653.74 L262.13 652.11 L262.73 650.47 L263.34 648.84 L263.95 647.21 L264.56 645.58 L265.18 643.95 L265.8 642.32 L266.42 640.68 L267.04 639.05 L267.67 637.42 L268.3 635.79 L268.94 634.16 L269.57 632.53 L270.21 630.89 L270.86 629.26 L271.5 627.63 L272.15 626 L272.81 624.37 L273.46 622.74 L274.12 621.11 L274.79 619.47 L275.45 617.84 L276.12 616.21 L276.79 614.58 L277.47 612.95 L278.15 611.32 L278.83 609.68 L279.52 608.05 L280.21 606.42 L280.9 604.79 L281.6 603.16 L282.3 601.53 L283.01 599.89 L283.71 598.26 L284.43 596.63 L285.14 595 L285.86 593.37 L286.58 591.74 L287.31 590.11 L288.04 588.47 L288.78 586.84 L289.51 585.21 L290.26 583.58 L291 581.95 L291.75 580.32 L292.51 578.68 L293.26 577.05 L294.03 575.42 L294.79 573.79 L295.56 572.16 L296.34 570.53 L297.11 568.89 L297.9 567.26 L298.68 565.63 L299.47 564 L300.27 562.37 L301.07 560.74 L301.87 559.11 L302.68 557.47 L303.49 555.84 L304.31 554.21 L305.13 552.58 L305.95 550.95 L306.78 549.32 L307.62 547.68 L308.46 546.05 L309.3 544.42 L310.15 542.79 L311 541.16 L311.86 539.53 L312.72 537.89 L313.58 536.26 L314.46 534.63 L315.33 533 L316.21 531.37 L317.1 529.74 L317.99 528.11 L318.89 526.47 L319.79 524.84 L320.7 523.21 L321.61 521.58 L322.52 519.95 L323.45 518.32 L324.38 516.68 L325.31 515.05 L326.25 513.42 L327.19 511.79 L328.15 510.16 L329.1 508.53 L330.07 506.89 L331.03 505.26 L332.01 503.63 L332.99 502 L333.98 500.37 L334.97 498.74 L335.97 497.11 L336.97 495.47 L337.98 493.84 L339 492.21 L340.03 490.58 L341.06 488.95 L342.1 487.32 L343.14 485.68 L344.19 484.05 L345.25 482.42 L346.31 480.79 L347.38 479.16 L348.46 477.53 L349.55 475.89 L350.64 474.26 L351.74 472.63 L352.85 471 L353.96 469.37 L355.08 467.74 L356.21 466.11 L357.35 464.47 L358.49 462.84 L359.64 461.21 L360.8 459.58 L361.96 457.95 L363.14 456.32 L364.32 454.68 L365.51 453.05 L366.71 451.42 L367.91 449.79 L369.12 448.16 L370.35 446.53 L371.57 444.89 L372.81 443.26 L374.06 441.63 L375.31 440 L376.57 438.37 L377.85 436.74 L379.12 435.11 L380.41 433.47 L381.71 431.84 L383.01 430.21 L384.33 428.58 L385.65 426.95 L386.98 425.32 L388.32 423.68 L389.67 422.05 L391.03 420.42 L392.4 418.79 L393.77 417.16 L395.16 415.53 L396.56 413.89 L397.96 412.26 L399.37 410.63 L400.8 409 L402.23 407.37 L403.67 405.74 L405.12 404.11 L406.58 402.47 L408.06 400.84 L409.54 399.21 L411.03 397.58 L412.53 395.95 L414.04 394.32 L415.56 392.68 L417.09 391.05 L418.63 389.42 L420.18 387.79 L421.75 386.16 L423.32 384.53 L424.9 382.89 L426.49 381.26 L428.1 379.63 L429.71 378 L431.33 376.37 L432.97 374.74 L434.61 373.11 L436.27 371.47 L437.94 369.84 L439.62 368.21 L441.31 366.58 L443.01 364.95 L444.72 363.32 L446.46 361.68 L448.22 360.05 L450.02 358.42 L451.84 356.79 L453.68 355.16 L455.56 353.53 L457.45 351.89 L459.38 350.26 L461.33 348.63 L463.31 347 L465.32 345.37 L467.34 343.74 L469.4 342.11 L471.48 340.47 L473.59 338.84 L475.72 337.21 L477.87 335.58 L480.05 333.95 L482.26 332.32 L484.49 330.68 L486.74 329.05 L489.02 327.42 L491.32 325.79 L493.64 324.16 L495.99 322.53 L498.36 320.89 L500.75 319.26 L503.17 317.63 L505.61 316 L508.07 314.37 L510.56 312.74 L513.06 311.11 L515.59 309.47 L518.14 307.84 L520.72 306.21 L523.31 304.58 L525.93 302.95 L528.56 301.32 L531.22 299.68 L533.9 298.05 L536.6 296.42 L539.32 294.79 L542.06 293.16 L544.82 291.53 L547.6 289.89 L550.4 288.26 L553.22 286.63 L556.06 285 L558.91 283.37 L561.79 281.74 L564.69 280.11 L567.6 278.47 L570.54 276.84 L573.49 275.21 L576.46 273.58 L579.45 271.95 L582.45 270.32 L585.48 268.68 L588.52 267.05 L591.58 265.42 L594.66 263.79 L597.75 262.16 L600.86 260.53 L603.99 258.89 L607.13 257.26 L610.29 255.63 L613.47 254" stroke="#ff7f0e" stroke-linecap="square"/>
<circle cx="192.5" cy="905.5" r="4.17" fill="#ff7f0e" stroke="#ff7f0e" stroke-width="1.39"/>
<circle cx="237.5" cy="727.5" r="4.17" fill="#ff7f0e" stroke="#ff7f0e" stroke-width="1.39"/>
<circle cx="309.5" cy="545.5" r="4.17" fill="#ff7f0e" stroke="#ff7f0e" stroke-width="1.39"/>
<circle cx="444.5" cy="364.5" r="4.17" fill="#ff7f0e" stroke="#ff7f0e" stroke-width="1.39"/>
<circle cx="758.5" cy="186.5" r="4.17" fill="#ff7f0e" stroke="#ff7f0e" stroke-width="1.39"/>
<path d="M150 905H1080" stroke="#f00" stroke-dasharray="7.71 3.33"/>
<path d="M150 254H1080" stroke="#f00" stroke-dasharray="7.71 3.33"/>
</g>
<rect x="150.5" y="144.5" width="930" height="924" fill="none" stroke="#000" stroke-width="1.11"/>
<path d="M835.5 157.5H1063.5Q1068.5 157.5 1068.5 162.5V232.5Q1068.5 237.5 1063.5 237.5H835.5Q830.5 237.5 830.5 232.5V162.5Q830.5 157.5 835.5 157.5Z" fill="#fff" fill-opacity="0.8" stroke="#ccc" stroke-opacity="0.8" stroke-width="1.39"/>
<path d="M840 177H890" stroke="#1f77b4" stroke-width="2.08" stroke-linecap="square" fill="none"/>
<path d="M840 213H890" stroke="#ff7f0e" stroke-width="2.08" stroke-linecap="square" fill="none"/>
<g fill="#000">
<text font-size="25px" x="207.38 223.38 239.12" y="1097">250</text>
<text font-size="25px" x="328.38 344.12 360" y="1097">500</text>
<text font-size="25px" x="448 463.88 479.62" y="1097">750</text>
<text font-size="25px" x="561 576.88 592.75 608.62" y="1097">1000</text>
<text font-size="25px" x="681.25 697.12 713.12 728.88" y="1097">1250</text>
<text font-size="25px" x="802 817.88 833.62 849.5" y="1097">1500</text>
<text font-size="25px" x="922.25 938.12 954 969.75" y="1097">1750</text>
<text font-size="25px" x="1042.88 1058.88 1074.75 1090.62" y="1097">2000</text>
<text font-size="38.89px" x="490 516.75 527.5 542.62 558.62 582.5 597.62 621.62 634 656.5 681.12 691.88 707 720.12" y="1171">Bitrate kbit/s</text>
<text font-size="25px" x="85.38 101.25 117 125" y="1058">35.0</text>
<text font-size="25px" x="85.38 101.25 117.12 125.12" y="942">37.5</text>
<text font-size="25px" x="84.25 100.25 116.12 124.12" y="826">40.0</text>
<text font-size="25px" x="84.5 100.5 116.5 124.5" y="711">42.5</text>
<text font-size="25px" x="84.25 100.25 116 124" y="595">45.0</text>
<text font-size="25px" x="84.25 100.25 116.12 124.12" y="480">47.5</text>
<text font-size="25px" x="85.38 101.12 117 125" y="364">50.0</text>
<text font-size="25px" x="85.38 101.12 117.12 125.12" y="249">52.5</text>
<text font-size="38.89px" transform="translate(36.5 667) rotate(-90)" x="0 23 35.38 60 80.25 104.75" y="0">y psnr</text>
<text font-size="38.89px" x="387 413.75 443.62 469 482.38 505.38 517.75 542.38 562.62 587.12 602.5 615.5 627.88 652.5 677.25 689.62 714.38 726.75 741.88 766.75 791.62 804 828.62" y="105">BDR-y psnr: 50.8 (77.5)</text>
<text font-size="25px" x="910.12 926 941.88 950.5 967.62 983.62 999.38 1008.5 1024.5 1040.5" y="186">S3-A45-265</text>
<text font-size="25px" x="910.12 926 941.88 948.75 964.12 980 995.88 1003.5 1020.62 1036" y="222">S3-T13-VTM</text>
</g>
</svg>
</body></html>
